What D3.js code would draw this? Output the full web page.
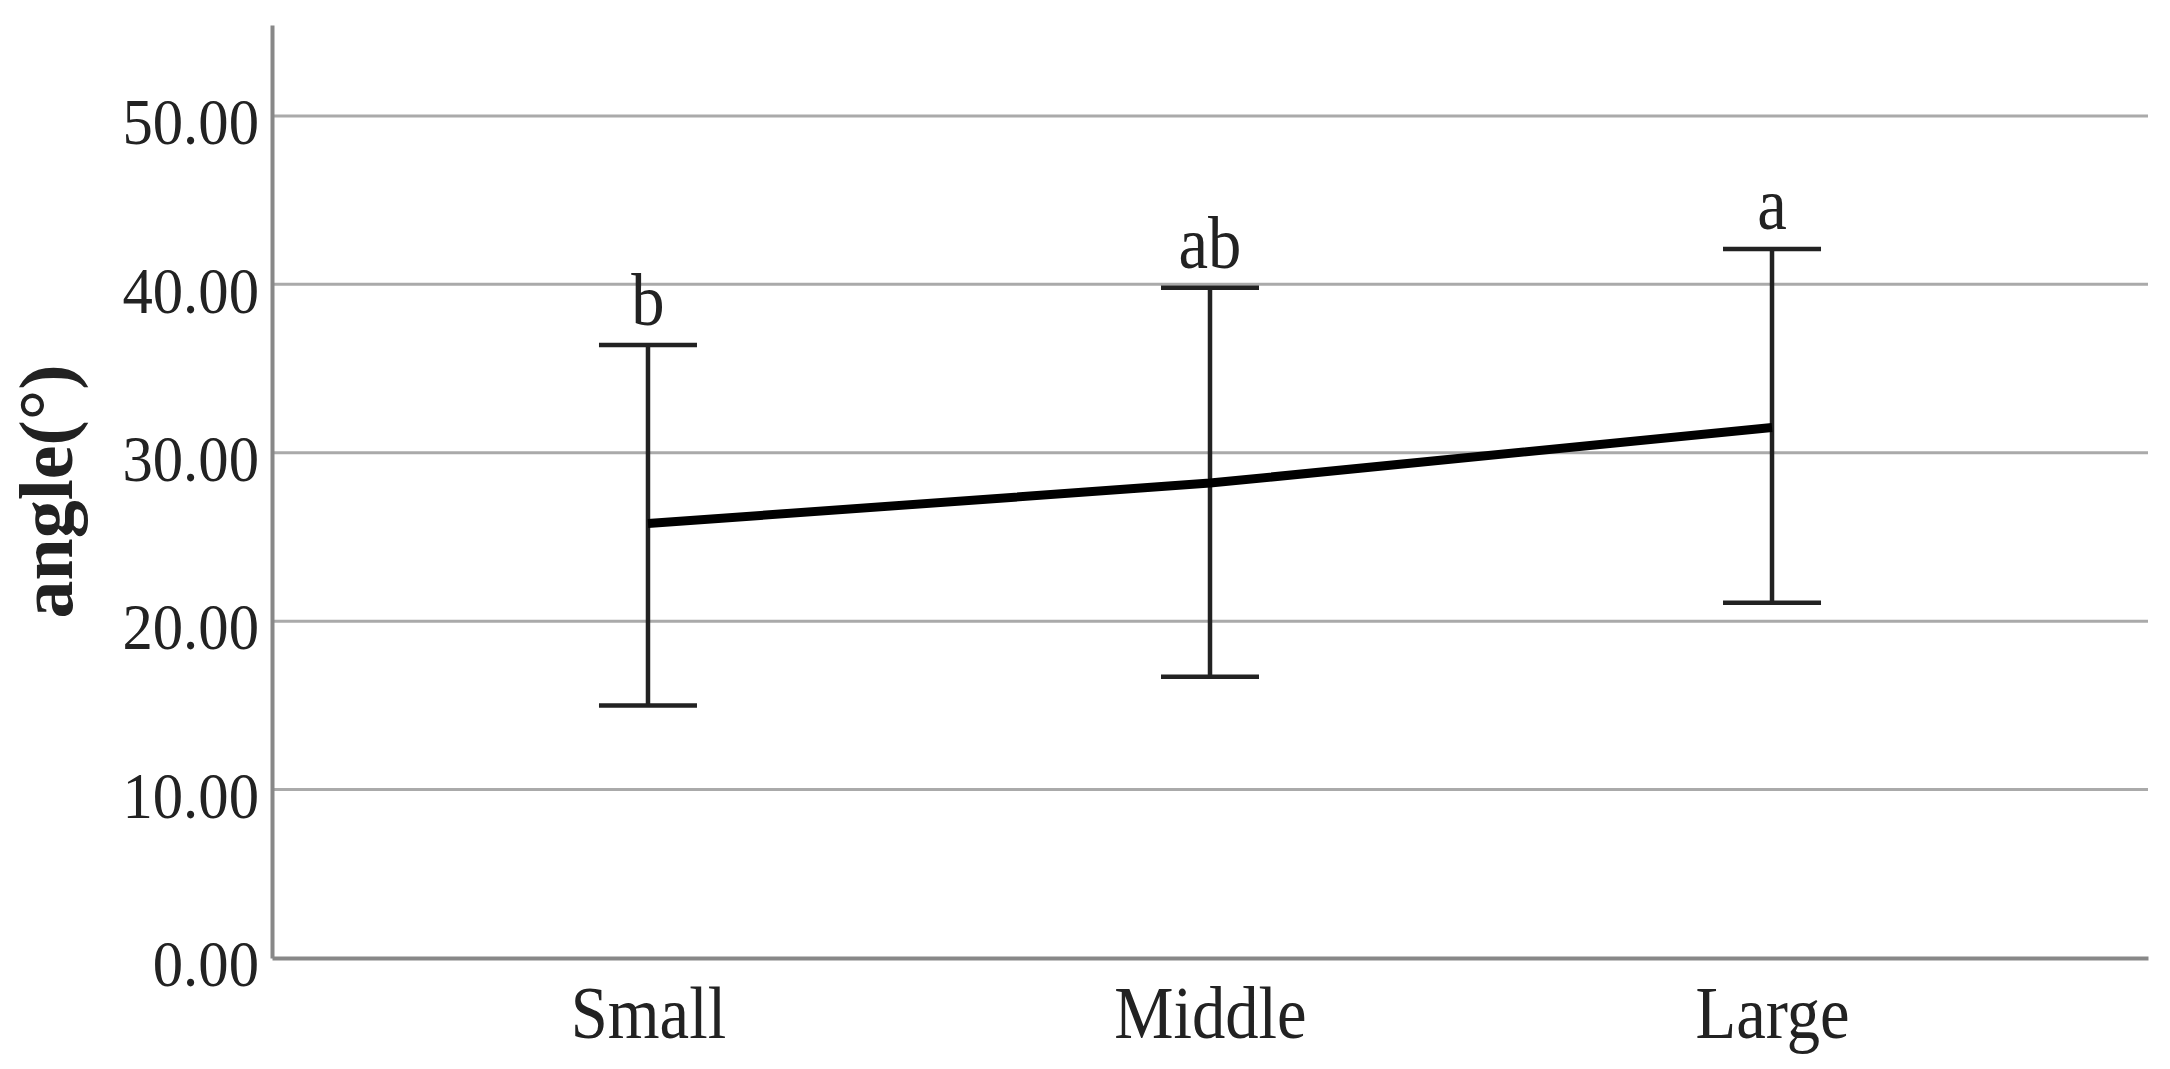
<!DOCTYPE html>
<html>
<head>
<meta charset="utf-8">
<script src="https://cdn.jsdelivr.net/npm/d3@7"></script>
<style>
  body { margin: 0; background: #fff; }
  text { font-family: "Liberation Serif", "Times New Roman", serif; fill: #222; }
</style>
</head>
<body>
<div id="grafico"></div>
<script>
// dados
const categorias = ["Small", "Middle", "Large"];
const medias = [25.8, 28.2, 31.5];
const limiteSup = [36.4, 39.8, 42.1];
const limiteInf = [15.0, 16.7, 21.1];
const letras = ["b", "ab", "a"];
const ticksY = [0, 10, 20, 30, 40, 50];

// margens
const margin = {top: 25, right: 22, bottom: 111, left: 272},
    width = 2170 - margin.left - margin.right,
    height = 1069 - margin.top - margin.bottom;

const svg = d3.select("#grafico")
  .append("svg")
    .attr("width", width + margin.left + margin.right)
    .attr("height", height + margin.top + margin.bottom)
  .append("g")
    .attr("transform", `translate(${margin.left},${margin.top})`);

const dados = categorias.map((c, i) => ({
  cat: c, media: medias[i], sup: limiteSup[i], inf: limiteInf[i], letra: letras[i]
}));

// Eixo x
const x = d3.scalePoint()
  .domain(categorias)
  .range([0, width])
  .padding(0.669);

// Eixo y
const y = d3.scaleLinear()
  .domain([0, 55.4])
  .range([height, 0]);

// linhas de grade
svg.append("g")
  .selectAll("line")
  .data(ticksY.filter(d => d > 0))
  .join("line")
    .attr("x1", 0)
    .attr("x2", width)
    .attr("y1", d => y(d))
    .attr("y2", d => y(d))
    .attr("stroke", "#aaa")
    .attr("stroke-width", 3);

// eixo y
const gy = svg.append("g")
  .call(d3.axisLeft(y).tickValues(ticksY).tickFormat(d3.format(".2f"))
    .tickSize(0).tickSizeOuter(0).tickPadding(13));
gy.select(".domain").attr("stroke", "#888").attr("stroke-width", 4);
gy.selectAll("text")
  .attr("x", 0)
  .attr("dy", "0.42em")
  .attr("transform", "translate(-13,0) scale(0.92,1)")
  .style("font-size", "66px")
  .style("fill", "#222");

// eixo x
const gx = svg.append("g")
  .attr("transform", `translate(0,${height})`)
  .call(d3.axisBottom(x).tickSize(0).tickSizeOuter(0).tickPadding(27));
gx.select(".domain").attr("stroke", "#888").attr("stroke-width", 4);
gx.selectAll("text")
  .attr("transform", "scale(0.9,1)")
  .style("font-size", "74px")
  .style("fill", "#222");

// rótulo do eixo y
svg.append("text")
  .attr("text-anchor", "middle")
  .attr("transform", `translate(${72 - margin.left},${height / 2}) rotate(-90)`)
  .style("font-size", "76px")
  .style("font-weight", "bold")
  .text("angle(°)");

// barras de erro
const capW = 49;
const barras = svg.append("g").attr("stroke", "#222").attr("stroke-width", 4.5);
barras.selectAll(".vert")
  .data(dados)
  .join("line")
    .attr("class", "vert")
    .attr("x1", d => x(d.cat))
    .attr("x2", d => x(d.cat))
    .attr("y1", d => y(d.sup))
    .attr("y2", d => y(d.inf));
barras.selectAll(".capSup")
  .data(dados)
  .join("line")
    .attr("class", "capSup")
    .attr("x1", d => x(d.cat) - capW)
    .attr("x2", d => x(d.cat) + capW)
    .attr("y1", d => y(d.sup))
    .attr("y2", d => y(d.sup));
barras.selectAll(".capInf")
  .data(dados)
  .join("line")
    .attr("class", "capInf")
    .attr("x1", d => x(d.cat) - capW)
    .attr("x2", d => x(d.cat) + capW)
    .attr("y1", d => y(d.inf))
    .attr("y2", d => y(d.inf));

// linha das médias
svg.append("path")
  .datum(dados)
  .attr("fill", "none")
  .attr("stroke", "#000")
  .attr("stroke-width", 9)
  .attr("d", d3.line()
    .x(d => x(d.cat))
    .y(d => y(d.media)));

// letras de significância
svg.selectAll(".letra")
  .data(dados)
  .join("text")
    .attr("class", "letra")
    .attr("text-anchor", "middle")
    .attr("transform", d => `translate(${x(d.cat)},${y(d.sup) - 20}) scale(0.9,1)`)
    .style("font-size", "74px")
    .text(d => d.letra);
</script>
</body>
</html>
